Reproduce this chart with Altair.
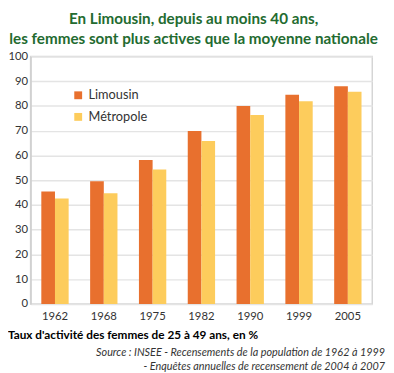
import altair as alt
import pandas as pd

years = ["1962", "1968", "1975", "1982", "1990", "1999", "2005"]
limousin = [45.4, 49.6, 58.2, 69.9, 80.0, 84.5, 88.0]
metropole = [42.6, 44.7, 54.3, 65.9, 76.4, 81.9, 85.8]
series = ["Limousin", "Métropole"]
colors = ["#E8702E", "#FDCC5C"]

title_lines = ["En Limousin, depuis au moins 40 ans,",
               "les femmes sont plus actives que la moyenne nationale"]
subtitle = "Taux d'activité des femmes de 25 à 49 ans, en %"
source_lines = ["Source : INSEE - Recensements de la population de 1962 à 1999",
                "- Enquêtes annuelles de recensement de 2004 à 2007"]

rows = []
for i, y in enumerate(years):
    rows.append({"Année": y, "Série": series[0], "Valeur": limousin[i]})
    rows.append({"Année": y, "Série": series[1], "Valeur": metropole[i]})
df = pd.DataFrame(rows)

FONT = "Lato"

bars = alt.Chart(df).mark_bar().encode(
    x=alt.X("Année:N", sort=years, title=None,
            scale=alt.Scale(paddingInner=0.44, paddingOuter=0.22),
            axis=alt.Axis(labelAngle=0, ticks=False, domain=False, grid=False,
                          labelFont=FONT, labelFontSize=11.5, labelColor="#333333",
                          labelPadding=7)),
    xOffset=alt.XOffset("Série:N", sort=series, scale=alt.Scale(paddingInner=0, paddingOuter=0)),
    y=alt.Y("Valeur:Q", title=None,
            scale=alt.Scale(domain=[0, 100], nice=False),
            axis=alt.Axis(values=list(range(0, 101, 10)), ticks=False, domain=True,
                          domainColor="#CFCFCF", domainWidth=1.5,
                          gridColor="#E4E4E4", gridWidth=1.5,
                          labelFont=FONT, labelFontSize=11.5, labelColor="#333333",
                          labelPadding=3)),
    color=alt.Color("Série:N", sort=series,
                    scale=alt.Scale(domain=series, range=colors),
                    legend=alt.Legend(title=None, orient="none", legendX=42, legendY=33,
                                      symbolType="square", symbolSize=64,
                                      symbolStrokeWidth=0, labelFont=FONT,
                                      labelFontSize=13, labelColor="#333333",
                                      rowPadding=8, labelOffset=4, padding=0)),
)

one = pd.DataFrame({"k": [0]})

def txt(text, x, y, size, weight="normal", style="normal", color="#000000", align="left"):
    return alt.Chart(one).mark_text(
        text=text, font=FONT, fontSize=size, fontWeight=weight, fontStyle=style,
        color=color, align=align, baseline="middle"
    ).encode(x=alt.value(x), y=alt.value(y))

W, H = 348, 252
layers = [
    bars,
    txt(title_lines[0], 166, -38, 15.5, weight="bold", color="#236B30", align="center"),
    txt(title_lines[1], 166, -18, 15.5, weight="bold", color="#236B30", align="center"),
    txt(subtitle, -23, 284, 12, weight="bold"),
    txt(source_lines[0], 361, 302, 11, style="italic", color="#333333", align="right"),
    txt(source_lines[1], 361, 316, 11, style="italic", color="#333333", align="right"),
]

chart = alt.layer(*layers).properties(
    width=W, height=H,
    autosize=alt.AutoSizeParams(type="none"),
    padding={"left": 23, "top": 46, "right": 14, "bottom": 70},
).configure_view(stroke="#D5D5D5", strokeWidth=1.5)

chart.save("out.html", embed_options={"renderer": "svg", "actions": False})
